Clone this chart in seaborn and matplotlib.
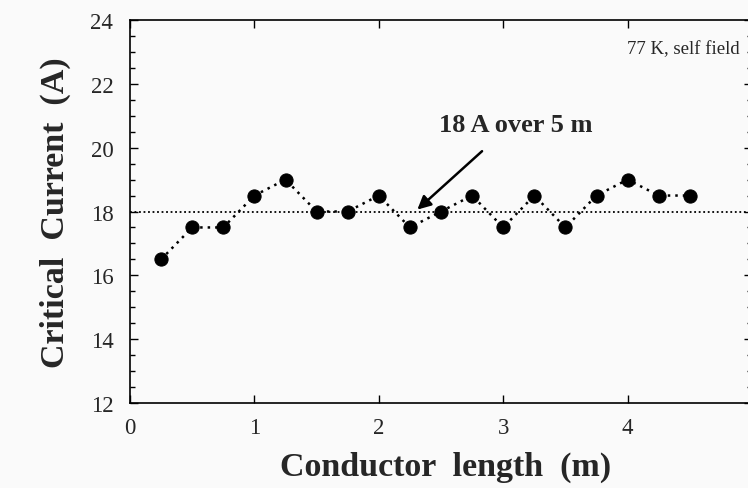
import numpy as np
import pandas as pd
import matplotlib
matplotlib.use("Agg")
import matplotlib.pyplot as plt
import seaborn as sns
from matplotlib.ticker import MultipleLocator

length_m = [0.25, 0.5, 0.75, 1.0, 1.25, 1.5, 1.75, 2.0, 2.25, 2.5, 2.75, 3.0, 3.25, 3.5, 3.75, 4.0, 4.25, 4.5]
current_a = [16.5, 17.5, 17.5, 18.5, 19.0, 18.0, 18.0, 18.5, 17.5, 18.0, 18.5, 17.5, 18.5, 17.5, 18.5, 19.0, 18.5, 18.5]
reference_level = 18.0
x_ticks = [0, 1, 2, 3, 4, 5]
y_ticks = [12, 14, 16, 18, 20, 22, 24]

sns.set_style("ticks")
plt.rcParams['font.family'] = ['Liberation Serif', 'DejaVu Serif']

df = pd.DataFrame({"length": length_m, "current": current_a})

W, H = 748, 489
fig = plt.figure(figsize=(W / 100, H / 100), dpi=100)
fig.patch.set_facecolor("#fafafa")
ax = fig.add_axes([130 / W, (H - 404) / H, (752 - 130) / W, (404 - 21) / H])
ax.set_facecolor("#fafafa")

ax.axhline(reference_level, color="black", linestyle=(0, (1, 1.5)), linewidth=1.3, zorder=1)
sns.lineplot(data=df, x="length", y="current", ax=ax, color="black",
             linestyle=(0, (1, 2)), linewidth=1.8, marker="o", markersize=9.5,
             markeredgecolor="black", markerfacecolor="black", zorder=3)

ax.set_xlim(0, 5)
ax.set_ylim(12, 24)
ax.set_xticks(x_ticks)
ax.set_yticks(y_ticks)
ax.yaxis.set_minor_locator(MultipleLocator(0.5))
ax.tick_params(axis="both", which="both", direction="in", top=True, right=True, labelsize=16.5, color="black")
ax.tick_params(axis="y", which="major", pad=12)
ax.tick_params(axis="x", which="major", pad=10)
ax.tick_params(which="major", length=6, width=1)
ax.tick_params(which="minor", length=3.5, width=1)
for s in ax.spines.values():
    s.set_linewidth(1.2)
    s.set_color("black")

ax.set_xlabel("Conductor  length  (m)", fontsize=24.5, fontweight="bold")
ax.xaxis.set_label_coords(0.508, -0.125)
ax.set_ylabel("Critical  Current  (A)", fontsize=24.5, fontweight="bold", labelpad=14)

ax.text(4.9, 23.09, "77 K, self field", ha="right", va="center", fontsize=13.5)
ax.text(3.10, 20.74, "18 A over 5 m", ha="center", va="center", fontsize=19, fontweight="bold")
ax.annotate("", xy=(2.31, 18.06), xytext=(2.83, 19.89),
            arrowprops=dict(arrowstyle="-|>", color="black", lw=1.8, mutation_scale=20,
                            shrinkA=0, shrinkB=0))

fig.savefig("out.png", dpi=100, facecolor=fig.get_facecolor())
